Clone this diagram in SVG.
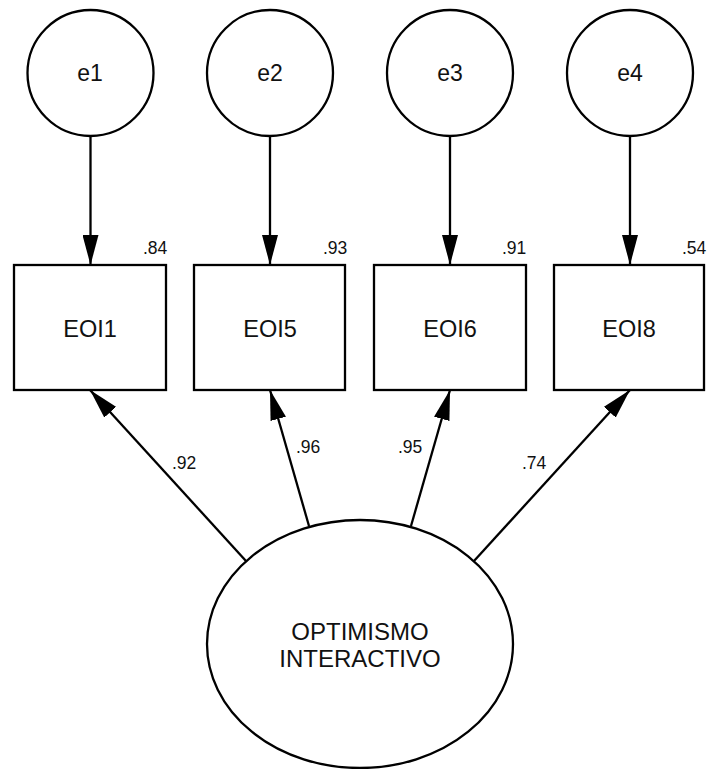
<svg xmlns="http://www.w3.org/2000/svg" width="708" height="769" viewBox="0 0 708 769">
<style>
  .shape { fill: #ffffff; stroke: #000000; stroke-width: 2.3; }
  .conn { stroke: #000000; stroke-width: 2.3; fill: none; marker-end: url(#arrow); }
  .lbl { font-family: "Liberation Sans", Arial, sans-serif; fill: #111111; text-anchor: middle; }
  .node { font-size: 23.5px; }
  .err { font-size: 23px; }
  .coef { font-family: "Liberation Sans", Arial, sans-serif; fill: #111111; font-size: 17.5px; }
</style>
<defs>
  <marker id="arrow" viewBox="0 0 30 16" markerWidth="30" markerHeight="16" refX="30" refY="8" orient="auto" markerUnits="userSpaceOnUse">
    <path d="M0,0 L30,8 L0,16 Z" fill="#000000"/>
  </marker>
</defs>
<rect width="708" height="769" fill="#ffffff"/>

<g id="connectors">
  <line class="conn" x1="90.5" y1="136" x2="90.5" y2="265"/>
  <line class="conn" x1="270" y1="136" x2="270" y2="265"/>
  <line class="conn" x1="450" y1="136" x2="450" y2="265"/>
  <line class="conn" x1="630" y1="136" x2="630" y2="265"/>
  <line class="conn" x1="246" y1="561" x2="90" y2="390"/>
  <line class="conn" x1="309" y1="526" x2="270" y2="390"/>
  <line class="conn" x1="411" y1="526" x2="450" y2="390"/>
  <line class="conn" x1="474" y1="561" x2="630" y2="390"/>
</g>

<g id="e1">
  <circle class="shape" cx="90.5" cy="73" r="63"/>
  <text class="lbl err" x="90" y="81">e1</text>
</g>
<g id="e2">
  <circle class="shape" cx="270" cy="73" r="63"/>
  <text class="lbl err" x="270" y="81">e2</text>
</g>
<g id="e3">
  <circle class="shape" cx="450" cy="73" r="63"/>
  <text class="lbl err" x="450" y="81">e3</text>
</g>
<g id="e4">
  <circle class="shape" cx="630" cy="73" r="63"/>
  <text class="lbl err" x="630" y="81">e4</text>
</g>

<g id="EOI1">
  <rect class="shape" x="14" y="265" width="152" height="125"/>
  <text class="lbl node" x="90" y="337">EOI1</text>
  <text class="coef" x="143" y="254">.84</text>
</g>
<g id="EOI5">
  <rect class="shape" x="194" y="265" width="151" height="125"/>
  <text class="lbl node" x="270" y="337">EOI5</text>
  <text class="coef" x="323" y="254">.93</text>
</g>
<g id="EOI6">
  <rect class="shape" x="374" y="265" width="152" height="125"/>
  <text class="lbl node" x="450" y="337">EOI6</text>
  <text class="coef" x="502" y="254">.91</text>
</g>
<g id="EOI8">
  <rect class="shape" x="554" y="265" width="150" height="125"/>
  <text class="lbl node" x="629" y="337">EOI8</text>
  <text class="coef" x="682" y="254">.54</text>
</g>

<g id="loadings">
  <text class="coef" x="172" y="469">.92</text>
  <text class="coef" x="296" y="453">.96</text>
  <text class="coef" x="398" y="453">.95</text>
  <text class="coef" x="522" y="469">.74</text>
</g>

<g id="OPTIMISMO_INTERACTIVO">
  <ellipse class="shape" cx="360" cy="644" rx="153" ry="124"/>
  <text class="lbl" font-size="24" x="360" y="640">OPTIMISMO</text>
  <text class="lbl" font-size="24" x="360" y="667">INTERACTIVO</text>
</g>
</svg>
